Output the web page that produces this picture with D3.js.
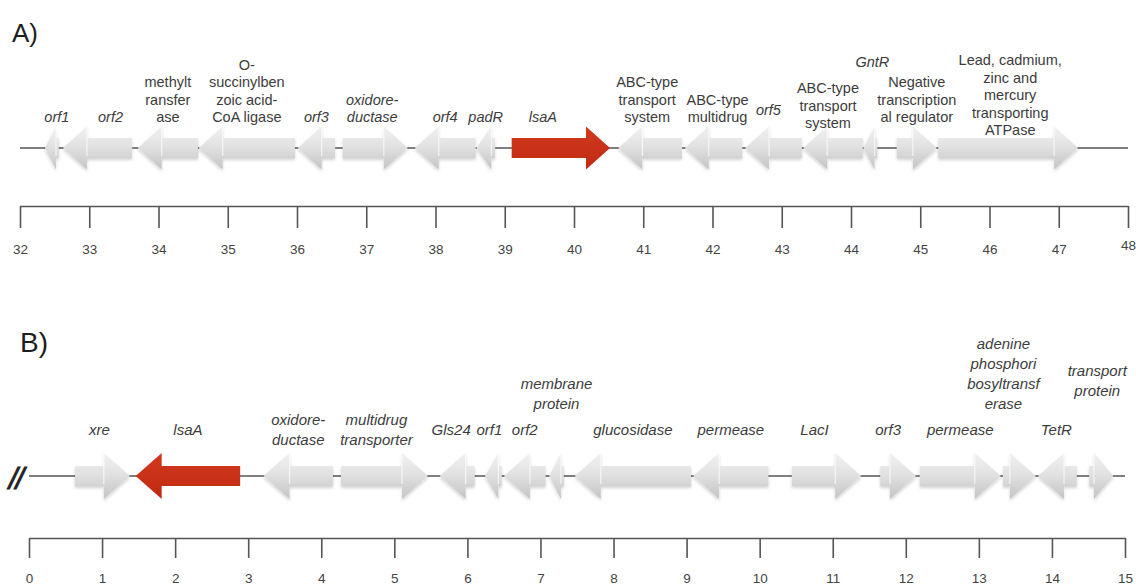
<!DOCTYPE html>
<html><head><meta charset="utf-8">
<script src="https://cdn.jsdelivr.net/npm/d3@7"></script>
<style>body{margin:0;background:#fff}svg{display:block}</style>
</head><body>
<svg id="c" width="1136" height="588"></svg>
<script>
// ---------- Panel A data (kb) ----------
const namesA  = ["orf1","orf2","methyltransferase","O-succinylbenzoic acid-CoA ligase","orf3","oxidoreductase","orf4","padR","lsaA","ABC-type transport system","ABC-type multidrug","orf5","ABC-type transport system 2","GntR","Negative transcriptional regulator","Lead, cadmium, zinc and mercury transporting ATPase"];
const startA  = [32.36,32.62,33.70,34.58,36.01,36.66,37.70,38.59,39.10,40.64,41.60,42.47,43.31,44.18,44.66,45.26];
const endA    = [32.56,33.62,34.57,35.97,36.55,37.60,38.58,38.86,40.52,41.56,42.43,43.29,44.17,44.38,45.24,47.28];
const strandA = [-1,-1,-1,-1,-1,1,-1,-1,1,-1,-1,-1,-1,-1,1,1];
const labelsA = ["orf1","orf2","methylt\nransfer\nase","O-\nsuccinylben\nzoic acid-\nCoA ligase","orf3","oxidore-\nductase","orf4","padR","lsaA","ABC-type\ntransport\nsystem","ABC-type\nmultidrug","orf5","ABC-type\ntransport\nsystem","GntR","Negative\ntranscription\nal regulator","Lead, cadmium,\nzinc and\nmercury\ntransporting\nATPase"];
const italicA = [1,1,0,0,1,1,1,1,1,0,0,1,0,1,0,0];
const ticksA  = [32,33,34,35,36,37,38,39,40,41,42,43,44,45,46,47,48];
const spanA   = [32,48];

// ---------- Panel B data (kb) ----------
const namesB  = ["xre","lsaA","oxidoreductase","multidrug transporter","Gls24","orf1","orf2","membrane protein","glucosidase","permease","LacI","orf3","permease 2","adenine phosphoribosyltransferase","TetR","transport protein"];
const startB  = [0.63,1.46,3.21,4.27,5.62,6.24,6.50,7.12,7.47,9.09,10.44,11.65,12.19,13.33,13.81,14.51];
const endB    = [1.38,2.89,4.16,5.46,6.10,6.47,7.07,7.32,9.06,10.12,11.39,12.14,13.30,13.78,14.34,14.84];
const strandB = [1,-1,-1,1,-1,-1,-1,-1,-1,-1,1,1,1,1,-1,1];
const labelsB = ["xre","lsaA","oxidore-\nductase","multidrug\ntransporter","Gls24","orf1","orf2","membrane\nprotein","glucosidase","permease","LacI","orf3","permease","adenine\nphosphori\nbosyltransf\nerase","TetR","transport\nprotein"];
const ticksB  = [0,1,2,3,4,5,6,7,8,9,10,11,12,13,14,15];
const spanB   = [0,15];

const highlightGene = "lsaA";

// ---------- layout (pixels, kept apart from data) ----------
const nudgeA = { // dx, dy in px
  "orf1":[5,0],"orf2":[13,0],"lsaA":[-18,0],"orf5":[-5,-7],
  "ABC-type transport system 2":[-5,6],"GntR":[2,-55],
  "Lead, cadmium, zinc and mercury transporting ATPase":[2,13],
  "oxidoreductase":[-3,0],"ABC-type transport system":[-3,0],"ABC-type multidrug":[4,0]
};
const nudgeB = {
  "xre":[-3,0],"multidrug transporter":[-8,0],"Gls24":[-6,0],"orf1":[-4,0],
  "LacI":[-12,0],"orf3":[-10,0],"adenine phosphoribosyltransferase":[-16,-56],
  "transport protein":[-4,-49],"membrane protein":[0,-36],"TetR":[-1,0]
};

const svg = d3.select("#c");
const defs = svg.append("defs");
const grad = defs.append("linearGradient").attr("id","gray").attr("x1",0).attr("y1",0).attr("x2",0).attr("y2",1);
grad.append("stop").attr("offset","0%").attr("stop-color","#f1f1f1");
grad.append("stop").attr("offset","45%").attr("stop-color","#e2e2e2");
grad.append("stop").attr("offset","100%").attr("stop-color","#c4c4c4");
const gradR = defs.append("linearGradient").attr("id","red").attr("x1",0).attr("y1",0).attr("x2",0).attr("y2",1);
gradR.append("stop").attr("offset","0%").attr("stop-color","#d23a1e");
gradR.append("stop").attr("offset","100%").attr("stop-color","#c02a12");
const sh = defs.append("filter").attr("id","sh").attr("x","-10%").attr("y","-20%").attr("width","120%").attr("height","150%");
sh.append("feDropShadow").attr("dx",0).attr("dy",2).attr("stdDeviation",1.6).attr("flood-color","#000").attr("flood-opacity",0.18);

const FONT = "'Liberation Sans', Arial, Helvetica, sans-serif";

function arrowPath(x0, x1, strand, cy, bodyH, headH, headL) {
  const len = x1 - x0;
  const h = Math.min(headL, len * 0.8);
  if (strand > 0) {
    const hb = x1 - h;
    return `M${x0},${cy-bodyH}L${hb},${cy-bodyH}L${hb},${cy-headH}L${x1},${cy}L${hb},${cy+headH}L${hb},${cy+bodyH}L${x0},${cy+bodyH}Z`;
  } else {
    const hb = x0 + h;
    return `M${x1},${cy-bodyH}L${hb},${cy-bodyH}L${hb},${cy-headH}L${x0},${cy}L${hb},${cy+headH}L${hb},${cy+bodyH}L${x1},${cy+bodyH}Z`;
  }
}

function panel(cfg) {
  const g = svg.append("g");
  const x = d3.scaleLinear().domain(cfg.domain).range(cfg.range);
  // backbone line
  g.append("line").attr("x1", x(cfg.span[0])).attr("x2", x(cfg.span[1]))
    .attr("y1", cfg.lineY).attr("y2", cfg.lineY).attr("stroke","#555").attr("stroke-width",1.3);
  const genes = cfg.names.map((n,i)=>({name:n,start:cfg.start[i],end:cfg.end[i],strand:cfg.strand[i],
    label:cfg.labels[i],italic:cfg.italic?cfg.italic[i]:1}));
  // arrows
  g.selectAll("path.gene").data(genes).join("path").attr("class","gene")
    .attr("d", d => arrowPath(x(d.start), x(d.end), d.strand, cfg.lineY, cfg.bodyH, cfg.headH, cfg.headL))
    .attr("fill", d => d.name === highlightGene ? "url(#red)" : "url(#gray)")
    .attr("filter", d => d.name === highlightGene ? null : "url(#sh)");
  // gloss at head base
  const hbx = d => { const l=x(d.end)-x(d.start), h=Math.min(cfg.headL,l*0.8); return d.strand>0? x(d.end)-h : x(d.start)+h; };
  g.selectAll("line.gloss").data(genes.filter(d=>d.name!==highlightGene)).join("line").attr("class","gloss")
    .attr("x1", hbx).attr("x2", hbx)
    .attr("y1", cfg.lineY - cfg.headH + 2).attr("y2", cfg.lineY + cfg.bodyH - 2)
    .attr("stroke","#fbfbfb").attr("stroke-width",1.2).attr("opacity",0.8);
  // labels
  const lab = g.selectAll("text.lab").data(genes).join("text").attr("class","lab")
    .attr("font-family", FONT).attr("font-size", cfg.fontSize).attr("fill","#3c3c3c")
    .attr("font-style", d => d.italic ? "italic" : "normal")
    .attr("text-anchor","middle").attr("dominant-baseline","central");
  lab.each(function(d){
    const lines = d.label.split("\n");
    const nd = cfg.nudge[d.name] || [0,0];
    const cx = (x(d.start)+x(d.end))/2 + nd[0];
    let y0;
    if (cfg.align === "bottom") y0 = cfg.labelY - (lines.length-1)*cfg.lineH + nd[1];
    else y0 = cfg.labelY - (lines.length-1)*cfg.lineH/2 + nd[1];
    d3.select(this).selectAll("tspan").data(lines).join("tspan")
      .attr("x", cx).attr("y", (s,i)=> y0 + i*cfg.lineH).text(s=>s);
  });
  // axis
  const ax = d3.axisBottom(x).tickValues(cfg.ticks).tickSize(cfg.tickSize).tickSizeOuter(0)
    .tickPadding(cfg.tickPad).tickFormat(d3.format("d"));
  const ag = g.append("g").attr("transform",`translate(0,${cfg.axisY})`).call(ax);
  ag.select(".domain").attr("stroke","#555").attr("stroke-width",1.6);
  ag.selectAll(".tick line").attr("stroke","#555").attr("stroke-width",1.6);
  ag.selectAll(".tick text").attr("font-family",FONT).attr("font-size",cfg.tickFont).attr("fill","#444");
  if (cfg.lastTickDy) ag.selectAll(".tick").filter(d=>d===cfg.ticks[cfg.ticks.length-1]).select("text").attr("y", cfg.tickSize+cfg.tickPad+cfg.lastTickDy);
  // panel letter
  svg.append("text").attr("x",cfg.letterX).attr("y",cfg.letterY).attr("font-family",FONT)
    .attr("font-size",cfg.letterSize).attr("fill","#1e1e1e").text(cfg.letter);
  return {g,x};
}

panel({domain:spanA, range:[20,1128], span:spanA, names:namesA, start:startA, end:endA, strand:strandA,
  labels:labelsA, italic:italicA, ticks:ticksA, lineY:148, bodyH:10, headH:21.5, headL:24,
  fontSize:14.5, lineH:17.5, labelY:117, align:"bottom", nudge:nudgeA,
  axisY:206, tickSize:22, tickPad:16, tickFont:13.5, lastTickDy:-4,
  letter:"A)", letterX:12, letterY:42, letterSize:26});

panel({domain:spanB, range:[29,1125], span:spanB, names:namesB, start:startB, end:endB, strand:strandB,
  labels:labelsB, italic:null, ticks:ticksB, lineY:476, bodyH:10, headH:23, headL:26,
  fontSize:15, lineH:20, labelY:429, align:"center", nudge:nudgeB,
  axisY:538, tickSize:20, tickPad:15, tickFont:13.5,
  letter:"B)", letterX:20, letterY:352, letterSize:28});

// break mark before panel B backbone
svg.append("text").attr("x",9).attr("y",487).attr("font-family","'DejaVu Sans', sans-serif").attr("font-size",26)
  .attr("font-style","italic").attr("fill","#222").attr("stroke","#222").attr("stroke-width",0.9)
  .attr("letter-spacing",-2).text("//");
</script>
</body></html>
